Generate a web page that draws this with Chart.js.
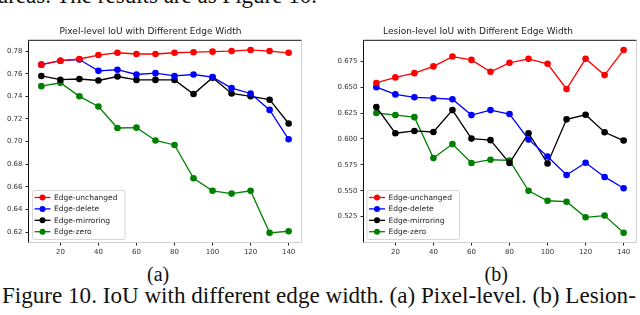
<!DOCTYPE html>
<html>
  <head>
    <title>IoU with different edge width</title>
    <script src="https://cdn.jsdelivr.net/npm/chart.js"></script>
    <style>
      body { margin: 0; background: #fff; width: 640px; height: 315px; overflow: hidden; position: relative; }
      canvas { position: absolute; }
      .serif { position: absolute; font-family: "Liberation Serif", serif; color: #111; white-space: nowrap; line-height: 1; }
    </style>
  </head>
  <body>
    <!-- cut-off line of the paper text above the figure -->
    <div class="serif" style="left:-2px; top:-16px; font-size:23px;">areas. The results are as Figure 10.</div>

    <canvas id="pixelChart" width="312" height="240" style="left:0; top:20px;"></canvas>
    <canvas id="lesionChart" width="320" height="240" style="left:320px; top:20px;"></canvas>

    <div class="serif" id="labelA" style="top:264px; font-size:20px;">(a)</div>
    <div class="serif" id="labelB" style="top:264px; font-size:20px;">(b)</div>
    <div class="serif" id="caption" style="left:2px; top:284px; font-size:23px;">Figure 10. IoU with different edge width. (a) Pixel-level. (b) Lesion-</div>

    <script>
      // data
      const edgeWidths = [10, 20, 30, 40, 50, 60, 70, 80, 90, 100, 110, 120, 130, 140];
      const xTickValues = [20, 40, 60, 80, 100, 120, 140];
      const seriesNames = ['Edge-unchanged', 'Edge-delete', 'Edge-mirroring', 'Edge-zero'];
      const seriesColors = ['#ff0000', '#0000ff', '#000000', '#008000'];

      // (a) pixel level
      const pixelUnchanged = [0.768, 0.7715, 0.773, 0.7765, 0.7785, 0.7774, 0.7774, 0.7785, 0.779, 0.7795, 0.780, 0.781, 0.780, 0.7785];
      const pixelDelete    = [0.768, 0.7715, 0.7725, 0.7625, 0.7635, 0.7593, 0.7605, 0.758, 0.7593, 0.757, 0.7473, 0.7425, 0.728, 0.702];
      const pixelMirroring = [0.758, 0.7547, 0.7553, 0.754, 0.7575, 0.7545, 0.7545, 0.7545, 0.742, 0.7565, 0.7425, 0.740, 0.737, 0.716];
      const pixelZero      = [0.749, 0.752, 0.740, 0.731, 0.712, 0.7123, 0.701, 0.697, 0.6676, 0.6565, 0.654, 0.6565, 0.6193, 0.6207];
      const pixelYTicks = [0.62, 0.64, 0.66, 0.68, 0.70, 0.72, 0.74, 0.76, 0.78];

      // (b) lesion level
      const lesionUnchanged = [0.654, 0.6594, 0.6635, 0.670, 0.6795, 0.6763, 0.6648, 0.6735, 0.6773, 0.6725, 0.6482, 0.6773, 0.6616, 0.6859];
      const lesionDelete    = [0.650, 0.643, 0.6402, 0.6393, 0.6383, 0.623, 0.6278, 0.624, 0.5995, 0.583, 0.5652, 0.577, 0.5633, 0.5524];
      const lesionMirroring = [0.6307, 0.6055, 0.6077, 0.6067, 0.6278, 0.6003, 0.5988, 0.5767, 0.6055, 0.5763, 0.6189, 0.6233, 0.6064, 0.5984];
      const lesionZero      = [0.625, 0.623, 0.621, 0.5815, 0.595, 0.5767, 0.5799, 0.5792, 0.5499, 0.5403, 0.5394, 0.5243, 0.526, 0.5093];
      const lesionYTicks = [0.525, 0.550, 0.575, 0.600, 0.625, 0.650, 0.675];

      const font = { family: 'DejaVu Sans', size: 7 };

      // matplotlib style frame: dark left/top, light right/bottom
      const framePlugin = {
        id: 'frame',
        afterDatasetsDraw(chart) {
          const a = chart.chartArea, c = chart.ctx;
          c.save();
          c.lineWidth = 1;
          c.strokeStyle = '#d0d0d0';
          c.beginPath();
          c.moveTo(a.right + 0.5, a.top); c.lineTo(a.right + 0.5, a.bottom + 0.5);
          c.lineTo(a.left, a.bottom + 0.5);
          c.stroke();
          c.strokeStyle = '#111';
          c.beginPath();
          c.moveTo(a.left - 0.5, a.bottom + 0.5); c.lineTo(a.left - 0.5, a.top - 0.5);
          c.lineTo(a.right + 0.5, a.top - 0.5);
          c.stroke();
          c.restore();
        }
      };

      // legend in the lower left corner of the axes
      const boxLegend = {
        id: 'boxLegend',
        afterDraw(chart, args, opts) {
          const a = chart.chartArea, c = chart.ctx;
          const w = opts.width, h = 49;
          const x = a.left + opts.offset, y = a.bottom - 3 - h;
          c.save();
          c.fillStyle = 'rgba(255,255,255,0.85)';
          c.strokeStyle = '#d6d6d6';
          c.lineWidth = 1;
          c.beginPath();
          c.roundRect(x + 0.5, y + 0.5, w, h, 2);
          c.fill(); c.stroke();
          c.font = '7.5px "DejaVu Sans"';
          c.textBaseline = 'middle';
          chart.data.datasets.forEach((ds, i) => {
            const ry = y + 7.5 + i * 11.4;
            c.strokeStyle = ds.borderColor;
            c.lineWidth = 1.3;
            c.beginPath(); c.moveTo(x + 2.5, ry); c.lineTo(x + 18.5, ry); c.stroke();
            c.fillStyle = ds.borderColor;
            c.beginPath(); c.arc(x + 10.5, ry, 3, 0, Math.PI * 2); c.fill();
            c.fillStyle = '#222';
            c.fillText(ds.label, x + 22, ry + 0.5);
          });
          c.restore();
        }
      };

      function makeChart(id, values, yTicks, decimals, title, yWidth, padRight, legendOffset) {
        const ymin = Math.min(...values.flat()), ymax = Math.max(...values.flat());
        const ypad = (ymax - ymin) * 0.05;
        return new Chart(document.getElementById(id), {
          type: 'line',
          data: {
            datasets: values.map((v, i) => ({
              label: seriesNames[i],
              data: edgeWidths.map((x, j) => ({ x: x, y: v[j] })),
              borderColor: seriesColors[i],
              backgroundColor: seriesColors[i],
              borderWidth: 1.3,
              pointRadius: 3.3,
              pointHoverRadius: 3.3,
              pointBorderWidth: 0,
              tension: 0
            }))
          },
          options: {
            responsive: false,
            animation: false,
            devicePixelRatio: 1,
            layout: { padding: { top: 0, right: padRight, left: 0, bottom: 0 } },
            plugins: {
              legend: { display: false },
              tooltip: { enabled: false },
              title: {
                display: true, text: title, color: '#222',
                font: { family: 'DejaVu Sans', size: 9, weight: 'normal' },
                padding: { top: 6, bottom: 4 }, position: 'top'
              },
              boxLegend: { offset: legendOffset, width: 92.5 }
            },
            scales: {
              x: {
                type: 'linear', min: 3.5, max: 146.5,
                afterBuildTicks: s => { s.ticks = xTickValues.map(v => ({ value: v })); },
                afterFit: s => { s.height = 18; },
                grid: { drawOnChartArea: false, drawTicks: true, tickLength: 3.5, color: '#222' },
                border: { display: false },
                ticks: { font: font, color: '#333', padding: 2, maxRotation: 0, autoSkip: false }
              },
              y: {
                type: 'linear', min: ymin - ypad, max: ymax + ypad,
                afterBuildTicks: s => { s.ticks = yTicks.map(v => ({ value: v })); },
                afterFit: s => { s.width = yWidth; },
                grid: { drawOnChartArea: false, drawTicks: true, tickLength: 3.5, color: '#222' },
                border: { display: false },
                ticks: { font: font, color: '#333', padding: 3, callback: v => v.toFixed(decimals) }
              }
            }
          },
          plugins: [framePlugin, boxLegend]
        });
      }

      makeChart('pixelChart', [pixelUnchanged, pixelDelete, pixelMirroring, pixelZero],
        pixelYTicks, 2, 'Pixel-level IoU with Different Edge Width', 29, 11, 3);
      makeChart('lesionChart', [lesionUnchanged, lesionDelete, lesionMirroring, lesionZero],
        lesionYTicks, 3, 'Lesion-level IoU with Different Edge Width', 44, 4, 2.5);

      // stretch the caption over the page width and centre the sub-figure labels
      const cap = document.getElementById('caption');
      cap.style.fontSize = (23 * 634 / cap.offsetWidth) + 'px';
      [['labelA', 158], ['labelB', 496]].forEach(([id, cx]) => {
        const el = document.getElementById(id);
        el.style.left = (cx - el.offsetWidth / 2) + 'px';
      });
    </script>
  </body>
</html>
